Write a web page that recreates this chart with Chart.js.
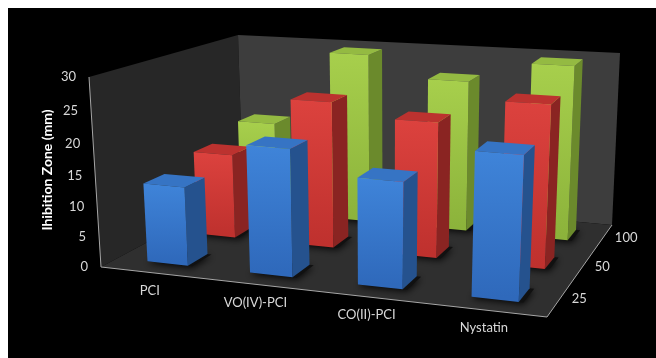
<!DOCTYPE html>
<html>
<head>
<meta charset="utf-8">
<script src="https://cdn.jsdelivr.net/npm/chart.js@4.4.1/dist/chart.umd.min.js"></script>
<style>
  body { margin: 0; background: #fff; }
</style>
</head>
<body>
<canvas id="zoneChart" width="656" height="358"></canvas>
<script>
// Inhibition zone (mm) per compound, one series per concentration
const categories = ['PCI', 'VO(IV)-PCI', 'CO(II)-PCI', 'Nystatin'];
const concentrations = ['25', '50', '100'];
const zone25 = [13, 20.5, 17, 22.5];
const zone50 = [14.5, 24.5, 22.5, 26.5];
const zone100 = [16.5, 29.5, 26, 29.5];
const yMin = 0, yMax = 30, yStep = 5;

// face colours per series: front top, front bottom, side, top
const shades = [
    ['#3f84d9', '#2f69bb', '#25528e', '#3674c4'],
    ['#dc423e', '#bf312e', '#8a2422', '#bc322f'],
    ['#a7cf4c', '#8cb33b', '#6b8a2c', '#94ba42']
];

// screen corners of the 3D box: u (categories), v (value), w (depth), x, y, depth weight
const box = [
    [0, 0, 0, 101, 267, 1.00], [1, 0, 0, 547, 317, 0.90],
    [0, 1, 0, 89, 77, 0.93],   [1, 1, 0, 556, 112, 0.83],
    [0, 0, 1, 243, 191, 1.20], [1, 0, 1, 612, 225, 1.10],
    [0, 1, 1, 238, 35, 1.13],  [1, 1, 1, 620, 53, 1.03]
];

function project(u, v, w) {
    let sx = 0, sy = 0, sz = 0;
    for (const c of box) {
        const t = (c[0] ? u : 1 - u) * (c[1] ? v : 1 - v) * (c[2] ? w : 1 - w) * c[5];
        sx += t * c[3]; sy += t * c[4]; sz += t;
    }
    return [sx / sz, sy / sz];
}

function poly(ctx, pts, fill) {
    ctx.beginPath();
    pts.forEach((p, k) => k ? ctx.lineTo(p[0], p[1]) : ctx.moveTo(p[0], p[1]));
    ctx.closePath();
    ctx.fillStyle = fill;
    ctx.fill();
}

function line(ctx, a, b) {
    ctx.beginPath();
    ctx.moveTo(a[0], a[1]);
    ctx.lineTo(b[0], b[1]);
    ctx.stroke();
}

const box3d = {
    id: 'box3d',
    beforeDraw(chart) {
        const ctx = chart.ctx;
        ctx.save();
        ctx.fillStyle = '#000';
        ctx.fillRect(8, 8, chart.width - 8, chart.height - 8);
        // walls and floor
        const P = (u, v, w) => project(u, v, w);
        poly(ctx, [P(0, 0, 0), P(0, 1, 0), P(0, 1, 1), P(0, 0, 1)], '#272727');
        poly(ctx, [P(0, 0, 1), P(0, 1, 1), P(1, 1, 1), P(1, 0, 1)], '#3d3d3d');
        poly(ctx, [P(0, 0, 0), P(1, 0, 0), P(1, 0, 1), P(0, 0, 1)], '#2f2f2f');
        ctx.strokeStyle = '#a6a6a6';
        ctx.lineWidth = 1;
        line(ctx, P(0, 0, 0), P(0, 1, 0));
        line(ctx, P(0, 0, 0), P(1, 0, 0));
        line(ctx, P(1, 0, 0), P(1, 0, 1));
        ctx.restore();
    },
    beforeDatasetsDraw(chart) {
        const ctx = chart.ctx;
        const xs = chart.scales.x, ys = chart.scales.y, ds = chart.scales.depth;
        const nu = px => (px - xs.left) / xs.width;
        const nv = py => (ys.bottom - py) / (ys.bottom - ys.top);
        const nw = px => (px - ds.left) / ds.width;
        const slotDepth = 1 / ds.getLabels().length;
        ctx.save();
        // back row first so nearer bars cover it
        for (let j = chart.data.datasets.length - 1; j >= 0; j--) {
            const meta = chart.getDatasetMeta(j);
            const wc = nw(ds.getPixelForValue(j));
            const w0 = wc - slotDepth * 0.2, w1 = wc + slotDepth * 0.2;
            const col = shades[j];
            meta.data.forEach(bar => {
                const u0 = nu(bar.x - bar.width / 2), u1 = nu(bar.x + bar.width / 2);
                const v1 = nv(bar.y);
                // soft shadow on the floor
                ctx.save();
                ctx.shadowColor = 'rgba(0,0,0,0.85)';
                ctx.shadowBlur = 7;
                ctx.shadowOffsetY = 2;
                poly(ctx, [project(u0, 0, w0), project(u1 + 0.01, 0, w0), project(u1 + 0.01, 0, w1), project(u0, 0, w1)], '#111');
                ctx.restore();
                poly(ctx, [project(u1, 0, w0), project(u1, 0, w1), project(u1, v1, w1), project(u1, v1, w0)], col[2]);
                poly(ctx, [project(u0, v1, w0), project(u1, v1, w0), project(u1, v1, w1), project(u0, v1, w1)], col[3]);
                const front = [project(u0, 0, w0), project(u1, 0, w0), project(u1, v1, w0), project(u0, v1, w0)];
                const g = ctx.createLinearGradient(0, front[3][1], 0, front[0][1]);
                g.addColorStop(0, col[0]);
                g.addColorStop(1, col[1]);
                poly(ctx, front, g);
            });
        }

        // axis texts
        ctx.fillStyle = '#d9d9d9';
        ctx.font = '13px Lato, "Open Sans", sans-serif';
        ctx.textBaseline = 'middle';
        ctx.textAlign = 'right';
        ys.ticks.forEach(t => {
            const p = project(0, nv(ys.getPixelForValue(t.value)), 0);
            ctx.fillText(String(t.value), p[0] - 13, p[1]);
        });
        ctx.textAlign = 'center';
        xs.getLabels().forEach((lab, i) => {
            const p = project(nu(xs.getPixelForValue(i)), 0, 0);
            ctx.fillText(lab, p[0] - 2, p[1] + 18);
        });
        ctx.textAlign = 'left';
        ds.getLabels().forEach((lab, j) => {
            const p = project(1, 0, nw(ds.getPixelForValue(j)));
            ctx.fillText(lab, p[0] + 12, p[1]);
        });
        ctx.save();
        ctx.translate(47, 170);
        ctx.rotate(-Math.PI / 2);
        ctx.textAlign = 'center';
        ctx.fillStyle = '#ffffff';
        ctx.font = 'bold 14px Lato, "Open Sans", sans-serif';
        ctx.fillText('Ihibition Zone (mm)', 0, 0);
        ctx.restore();
        ctx.restore();
        return false;
    }
};

const config = {
    type: 'bar',
    data: {
        labels: categories,
        datasets: [
            { label: concentrations[0], data: zone25 },
            { label: concentrations[1], data: zone50 },
            { label: concentrations[2], data: zone100 }
        ]
    },
    options: {
        responsive: false,
        animation: false,
        layout: { padding: 20 },
        datasets: {
            bar: { grouped: false, barPercentage: 0.4, categoryPercentage: 1 }
        },
        plugins: {
            legend: { display: false },
            tooltip: { enabled: false }
        },
        scales: {
            x: { display: false },
            depth: { type: 'category', axis: 'x', labels: concentrations, offset: true, display: false },
            y: { display: false, min: yMin, max: yMax, ticks: { stepSize: yStep } }
        }
    },
    plugins: [box3d]
};

window.onload = function() {
    const ctx = document.getElementById('zoneChart').getContext('2d');
    new Chart(ctx, config);
};
</script>
</body>
</html>
